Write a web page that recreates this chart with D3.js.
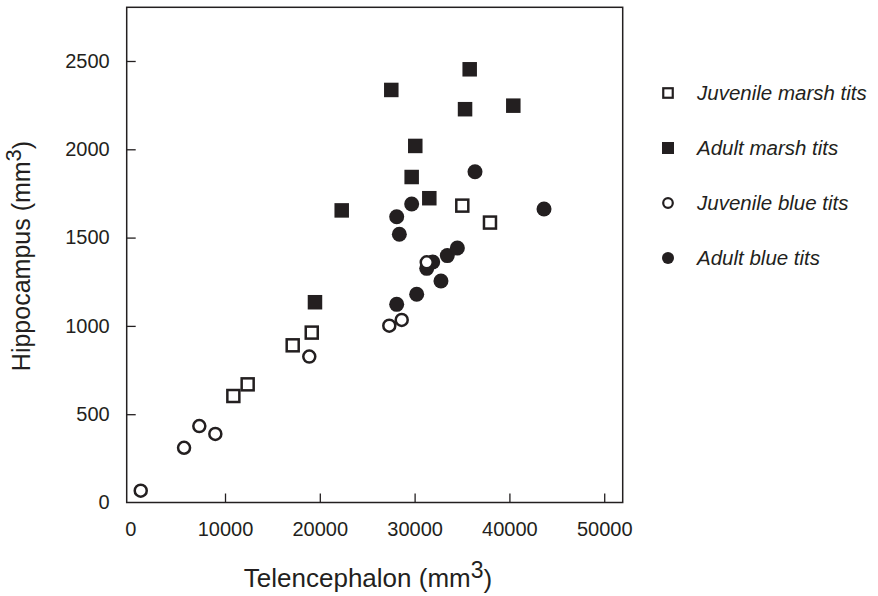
<!doctype html>
<html>
  <head>
    <meta charset="utf-8">
    <title>Hippocampus vs Telencephalon</title>
    <script src="https://cdnjs.cloudflare.com/ajax/libs/d3/7.8.5/d3.min.js"></script>
    <style>
      body { margin: 0; background: #fff; }
      text { font-family: "Liberation Sans", Arial, Helvetica, sans-serif; fill: #231f20; }
    </style>
  </head>
  <body>
    <div id="chart"></div>
    <script>
      // values (telencephalon, hippocampus) in mm3
      const juvMarshX = [10880, 12390, 17140, 19150, 35030, 37950];
      const juvMarshY = [603, 669, 890, 962, 1681, 1585];

      const adultMarshX = [19490, 22310, 27540, 29690, 30070, 31550, 35320, 35810, 40410];
      const adultMarshY = [1134, 1654, 2336, 1843, 2019, 1723, 2227, 2453, 2247];

      const juvBlueX = [1110, 5680, 7290, 8980, 18890, 27330, 28640, 31280];
      const juvBlueY = [67, 310, 433, 388, 826, 1001, 1034, 1360];

      const adultBlueX = [28110, 30220, 32780, 31280, 31910, 33450, 34510, 28390, 28110, 29690, 36370, 43650];
      const adultBlueY = [1122, 1179, 1254, 1326, 1362, 1398, 1441, 1519, 1618, 1690, 1873, 1662];

      const xTicks = [0, 10000, 20000, 30000, 40000, 50000];
      const yTicks = [0, 500, 1000, 1500, 2000, 2500];

      const legendLabels = ['Juvenile marsh tits', 'Adult marsh tits', 'Juvenile blue tits', 'Adult blue tits'];

      const ink = '#231f20';
      const W = 878, H = 596;
      const plotL = 126.7, plotR = 622.7, plotT = 7.3, plotB = 502.5;

      const svg = d3.select('#chart').append('svg')
        .attr('width', W).attr('height', H);

      const x = d3.scaleLinear().domain([-370, 51950]).range([plotL, plotR]);
      const y = d3.scaleLinear().domain([0, 2804]).range([plotB, plotT]);

      // axes, ticks point inward
      const gx = svg.append('g')
        .attr('transform', `translate(0,${plotB})`)
        .call(d3.axisBottom(x).tickValues(xTicks).tickSize(-9).tickPadding(19).tickFormat(d3.format('d')));
      const gy = svg.append('g')
        .attr('transform', `translate(${plotL},0)`)
        .call(d3.axisLeft(y).tickValues(yTicks).tickSize(-9).tickPadding(17).tickFormat(d3.format('d')));

      [gx, gy].forEach(g => {
        g.select('.domain').remove();
        g.selectAll('line').attr('stroke', ink).attr('stroke-width', 1.3);
        g.selectAll('text').style('font-size', '20px').attr('fill', ink)
          .style('font-family', '"Liberation Sans", Arial, sans-serif');
      });
      // 0 on the axes sits at the frame edge
      gx.selectAll('.tick').filter(d => d === 0).select('line').remove();
      gy.selectAll('.tick').filter(d => d === 0).select('line').remove();

      // frame
      svg.append('rect')
        .attr('x', plotL).attr('y', plotT)
        .attr('width', plotR - plotL).attr('height', plotB - plotT)
        .attr('fill', 'none').attr('stroke', ink).attr('stroke-width', 1.5);

      // helpers for markers
      function squares(xs, ys, filled) {
        const s = filled ? 14.5 : 12;
        svg.append('g').selectAll('rect')
          .data(d3.zip(xs, ys)).join('rect')
          .attr('x', d => x(d[0]) - s / 2)
          .attr('y', d => y(d[1]) - s / 2)
          .attr('width', s).attr('height', s)
          .attr('fill', filled ? ink : '#fff')
          .attr('stroke', filled ? 'none' : ink)
          .attr('stroke-width', 2.5);
      }
      function circles(xs, ys, filled) {
        svg.append('g').selectAll('circle')
          .data(d3.zip(xs, ys)).join('circle')
          .attr('cx', d => x(d[0]))
          .attr('cy', d => y(d[1]))
          .attr('r', filled ? 7.5 : 6)
          .attr('fill', filled ? ink : '#fff')
          .attr('stroke', filled ? 'none' : ink)
          .attr('stroke-width', 2.5);
      }

      squares(adultMarshX, adultMarshY, true);
      circles(adultBlueX, adultBlueY, true);
      squares(juvMarshX, juvMarshY, false);
      circles(juvBlueX, juvBlueY, false);

      // axis titles
      const xt = svg.append('text')
        .attr('x', 368).attr('y', 587)
        .attr('text-anchor', 'middle')
        .style('font-size', '26px');
      xt.append('tspan').text('Telencephalon (mm');
      xt.append('tspan').text('3').attr('dy', '-0.4em').style('font-size', '23px');
      xt.append('tspan').text(')').attr('dy', '0.4em');

      const yt = svg.append('text')
        .attr('transform', 'translate(30,256) rotate(-90)')
        .attr('text-anchor', 'middle')
        .style('font-size', '25px');
      yt.append('tspan').text('Hippocampus (mm');
      yt.append('tspan').text('3').attr('dy', '-0.4em').style('font-size', '22px');
      yt.append('tspan').text(')').attr('dy', '0.4em');

      // legend
      const legY = d3.scalePoint().domain(legendLabels).range([93, 258]);
      const leg = svg.append('g').selectAll('g')
        .data(legendLabels).join('g')
        .attr('transform', d => `translate(668,${legY(d)})`);

      leg.each(function(d, i) {
        const g = d3.select(this);
        const filled = i % 2 === 1;
        if (i < 2) {
          const s = filled ? 12 : 9.5;
          g.append('rect').attr('x', -s / 2).attr('y', -s / 2)
            .attr('width', s).attr('height', s)
            .attr('fill', filled ? ink : '#fff')
            .attr('stroke', filled ? 'none' : ink).attr('stroke-width', 2.2);
        } else {
          g.append('circle').attr('r', filled ? 6 : 4.8)
            .attr('fill', filled ? ink : '#fff')
            .attr('stroke', filled ? 'none' : ink).attr('stroke-width', 2.2);
        }
        g.append('text').attr('x', 29).attr('dy', '0.36em')
          .style('font-size', '20.5px').style('font-style', 'italic')
          .text(d);
      });
    </script>
  </body>
</html>
